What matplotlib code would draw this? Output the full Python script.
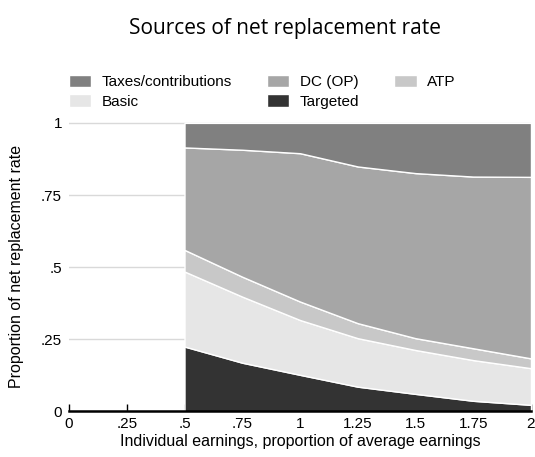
import matplotlib.pyplot as plt
import numpy as np

# earnings multiples and layer values
earnings = [0.5, 0.75, 1.0, 1.25, 1.5, 1.75, 2.0]
targeted = [0.225, 0.169, 0.127, 0.086, 0.061, 0.037, 0.023]
basic = [0.260, 0.229, 0.190, 0.168, 0.152, 0.141, 0.127]
atp = [0.075, 0.069, 0.064, 0.052, 0.041, 0.041, 0.034]
dc_op = [0.355, 0.440, 0.514, 0.543, 0.572, 0.595, 0.629]
taxes = [0.085, 0.093, 0.105, 0.151, 0.174, 0.186, 0.187]

labels = ["Targeted", "Basic", "ATP", "DC (OP)", "Taxes/contributions"]
colors = ["#333333", "#e6e6e6", "#c8c8c8", "#a6a6a6", "#808080"]

xticks = [0, 0.25, 0.5, 0.75, 1, 1.25, 1.5, 1.75, 2]
xtick_labels = ["0", ".25", ".5", ".75", "1", "1.25", "1.5", "1.75", "2"]
yticks = [0, 0.25, 0.5, 0.75, 1]
ytick_labels = ["0", ".25", ".5", ".75", "1"]

plt.rcParams['font.family'] = ['Liberation Sans', 'DejaVu Sans']

fig = plt.figure(figsize=(5.35, 4.57), dpi=100)
ax = fig.add_axes([0.129, 0.0996, 0.8635, 0.634])

polys = ax.stackplot(earnings, targeted, basic, atp, dc_op, taxes,
                     colors=colors, edgecolor="white", linewidth=1, zorder=2)

ax.set_xlim(0, 2)
ax.set_ylim(0, 1.004)
ax.set_xticks(xticks)
ax.set_xticklabels(xtick_labels)
ax.set_yticks(yticks)
ax.set_yticklabels(ytick_labels)
ax.yaxis.grid(True, color="#d9d9d9", linewidth=1, zorder=0)
ax.set_axisbelow(True)

for s in ["top", "right", "left"]:
    ax.spines[s].set_visible(False)
ax.spines["bottom"].set_linewidth(1.8)
ax.spines["bottom"].set_zorder(3)
ax.tick_params(axis="x", direction="in", length=5, width=1, labelsize=11, pad=4)
ax.tick_params(axis="y", length=0, labelsize=11, pad=5)

ax.set_xlabel("Individual earnings, proportion of average earnings", fontsize=11.5, labelpad=2)
ax.set_ylabel("Proportion of net replacement rate", fontsize=11.5, labelpad=12)

fig.text(0.533, 0.938, "Sources of net replacement rate", ha="center", va="center",
         fontsize=15, family=["Open Sans", "DejaVu Sans"])

# row-wise order: Taxes, DC, ATP / Basic, Targeted
order = [4, 1, 3, 0, 2]
fig.legend([polys[i] for i in order], [labels[i] for i in order],
           ncol=3, loc="upper left", bbox_to_anchor=(0.117, 0.85),
           frameon=False, fontsize=11, handlelength=1.45, handleheight=0.85,
           handletextpad=0.7, columnspacing=2.3, labelspacing=0.35,
           borderaxespad=0)

fig.savefig("out.png", dpi=100)
